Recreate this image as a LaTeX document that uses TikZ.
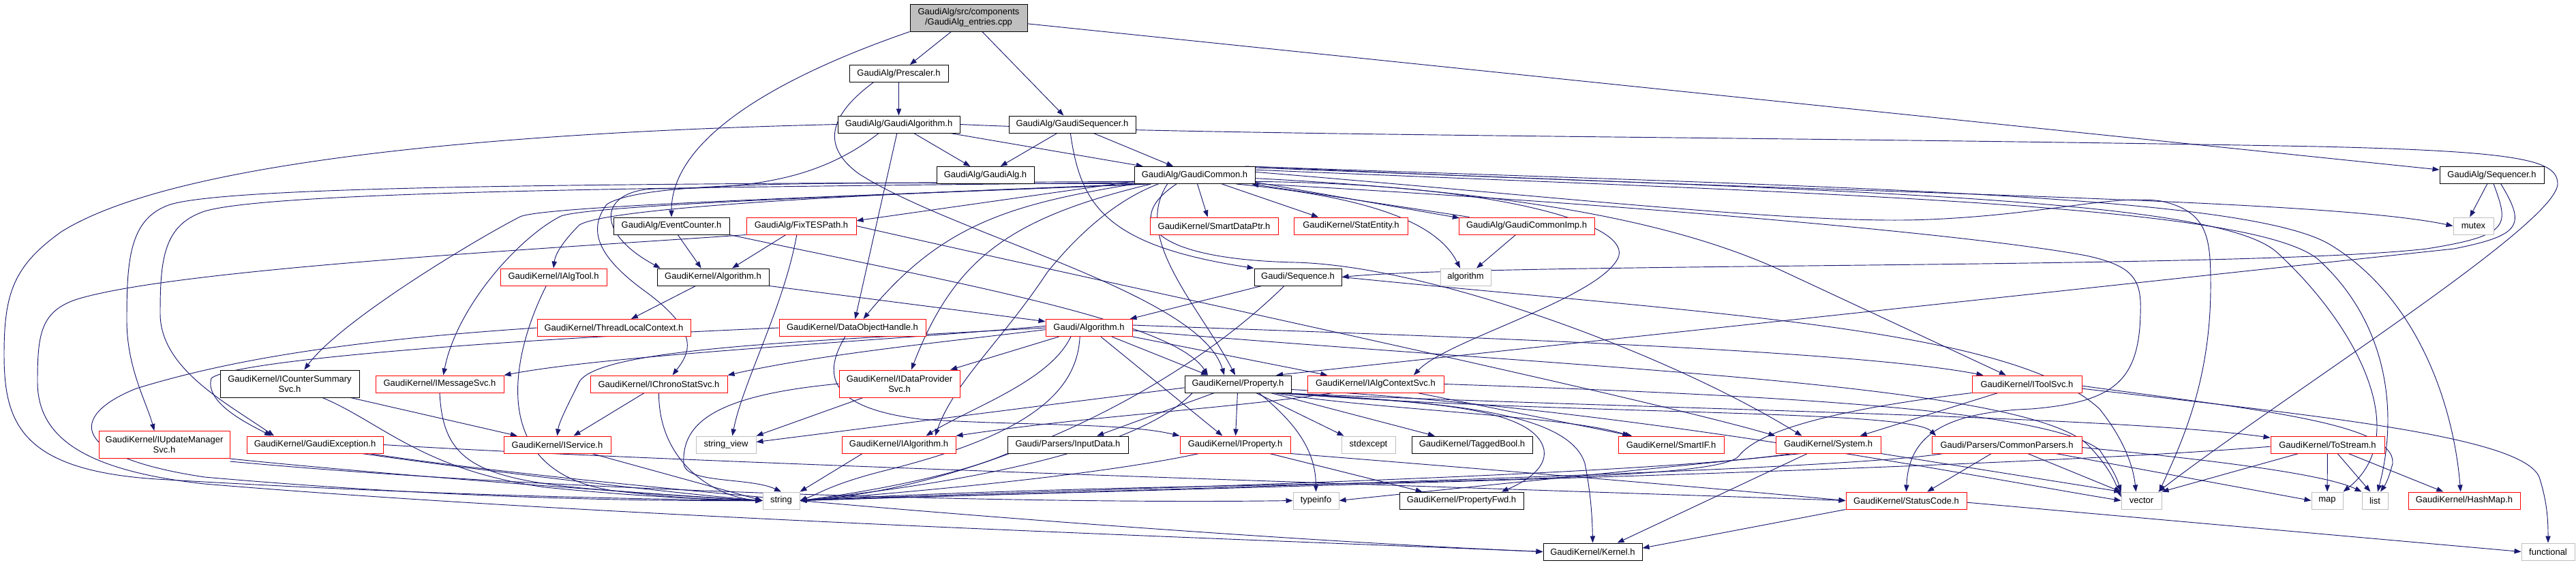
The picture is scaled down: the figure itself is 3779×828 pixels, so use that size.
\documentclass[tikz,border=0pt]{standalone}
\usepackage{fontspec}
\setmainfont{Liberation Sans}
\usetikzlibrary{arrows.meta}
\definecolor{navyc}{HTML}{191970}
\definecolor{redc}{HTML}{FF0000}
\definecolor{grayc}{HTML}{BFBFBF}
\pgfdeclarelayer{bg}
\pgfsetlayers{bg,main}
\begin{document}
\begin{tikzpicture}[x=0.75pt,y=-0.75pt,
 bx/.style={draw=black,fill=white,rectangle,inner sep=0pt,minimum width={#1*0.75pt},minimum height=18.75pt,line width=0.75pt,font=\fontsize{9.75}{11.25}\selectfont,align=center},
 rb/.style={bx=#1,draw=redc},
 gb/.style={bx=#1,draw=grayc},
 tall/.style={minimum height=30pt},
 e/.style={draw=navyc,line width=0.7pt,-{Triangle[length=7.5pt,width=5.5pt]}},
]
\useasboundingbox (0,0) rectangle (3779,828);
% nodes
\node[bx=172,tall,fill=grayc] (root) at (1421,26) {GaudiAlg/src/components\\/GaudiAlg\_entries.cpp};
\node[bx=145] (prescaler) at (1318.5,108) {GaudiAlg/Prescaler.h};
\node[bx=179] (galgo) at (1318.5,182.5) {GaudiAlg/GaudiAlgorithm.h};
\node[bx=186] (gseq) at (1573,182.5) {GaudiAlg/GaudiSequencer.h};
\node[bx=143] (galg) at (1445.5,257) {GaudiAlg/GaudiAlg.h};
\node[bx=177] (gcommon) at (1752.5,257) {GaudiAlg/GaudiCommon.h};
\node[bx=153] (sequencer) at (3655.5,257) {GaudiAlg/Sequencer.h};
\node[bx=170] (evcount) at (985,331.5) {GaudiAlg/EventCounter.h};
\node[rb=161] (fixtes) at (1175.5,331.5) {GaudiAlg/FixTESPath.h};
\node[rb=188] (sdp) at (1781,331.5) {GaudiKernel/SmartDataPtr.h};
\node[rb=167] (statent) at (1982,331.5) {GaudiKernel/StatEntity.h};
\node[rb=199] (gcimp) at (2239.5,331.5) {GaudiAlg/GaudiCommonImp.h};
\node[gb=59] (mutex) at (3628.5,331.5) {mutex};
\node[rb=156] (ialgtool) at (812,406.5) {GaudiKernel/IAlgTool.h};
\node[bx=164] (kalgo) at (1046,406.5) {GaudiKernel/Algorithm.h};
\node[bx=128] (sequence) at (1904,406.5) {Gaudi/Sequence.h};
\node[gb=74] (algorithm) at (2150,406.5) {algorithm};
\node[rb=225] (tlc) at (900.5,481) {GaudiKernel/ThreadLocalContext.h};
\node[rb=215] (doh) at (1250.5,481) {GaudiKernel/DataObjectHandle.h};
\node[rb=127] (galgorithm) at (1597.5,481) {Gaudi/Algorithm.h};
\node[bx=204,tall] (icounter) at (425,563) {GaudiKernel/ICounterSummary\\Svc.h};
\node[rb=188] (imsg) at (645,563.5) {GaudiKernel/IMessageSvc.h};
\node[rb=201] (ichrono) at (966.5,563.5) {GaudiKernel/IChronoStatSvc.h};
\node[rb=177,tall] (idataprov) at (1319.5,563) {GaudiKernel/IDataProvider\\Svc.h};
\node[bx=156] (property) at (1816,563.5) {GaudiKernel/Property.h};
\node[rb=200] (ialgctx) at (2018,563.5) {GaudiKernel/IAlgContextSvc.h};
\node[rb=161] (itoolsvc) at (2973.5,563.5) {GaudiKernel/IToolSvc.h};
\node[rb=192,tall] (iupdate) at (241,652.5) {GaudiKernel/IUpdateManager\\Svc.h};
\node[rb=200] (gexc) at (462,652.5) {GaudiKernel/GaudiException.h};
\node[rb=157] (iservice) at (817.5,652.5) {GaudiKernel/IService.h};
\node[gb=88] (strview) at (1065,652.5) {string\_view};
\node[rb=167] (ialgorithm) at (1318.5,652.5) {GaudiKernel/IAlgorithm.h};
\node[bx=177] (inputdata) at (1566.5,652.5) {Gaudi/Parsers/InputData.h};
\node[rb=162] (iproperty) at (1812,652.5) {GaudiKernel/IProperty.h};
\node[gb=79] (stdexcept) at (2007.5,652.5) {stdexcept};
\node[bx=177] (taggedbool) at (2159.5,652.5) {GaudiKernel/TaggedBool.h};
\node[rb=155] (smartif) at (2451.5,652.5) {GaudiKernel/SmartIF.h};
\node[rb=154] (system) at (2682,652.5) {GaudiKernel/System.h};
\node[rb=220] (cparsers) at (2944,652.5) {Gaudi/Parsers/CommonParsers.h};
\node[rb=167] (tostream) at (3414.5,652.5) {GaudiKernel/ToStream.h};
\node[gb=54] (string) at (1146,734.5) {string};
\node[gb=67] (typeinfo) at (1930.5,734.5) {typeinfo};
\node[bx=182] (propfwd) at (2144,734.5) {GaudiKernel/PropertyFwd.h};
\node[rb=177] (statuscode) at (2796.5,734.5) {GaudiKernel/StatusCode.h};
\node[gb=59] (vector) at (3141.5,734.5) {vector};
\node[gb=46] (map) at (3414,734.5) {map};
\node[gb=38] (list) at (3484,734.5) {list};
\node[rb=164] (hashmap) at (3615,734.5) {GaudiKernel/HashMap.h};
\node[bx=145] (kernel) at (2336.5,809.5) {GaudiKernel/Kernel.h};
\node[gb=78] (functional) at (3738,809.5) {functional};

\begin{pgfonlayer}{bg}
\fill[white] (0,0) rectangle (3779,828);
% root
\draw[e] (root) -- (prescaler);
\draw[e] (root) -- (gseq);
\draw[e] (root) -- (sequencer);
\draw[e] (root.south west) .. controls (1150,110) and (985,200) .. (evcount);
% prescaler
\draw[e] (prescaler) -- (galgo);
\draw[e] ([xshift=-28pt]prescaler.south) .. controls (1215,170) and (1205,215) .. (1260,255) .. controls (1400,345) and (1760,430) .. ([xshift=-15pt]property.north);
% GaudiAlgorithm
\draw[e] (galgo) -- (galg);
\draw[e] (galgo) -- (gcommon);
\draw[e] ([xshift=-2pt]galgo.south) -- ([xshift=3pt]doh.north);
\draw[e] ([xshift=-22pt]galgo.south) .. controls (1200,265) and (1100,277) .. (960,277) .. controls (880,280) and (870,340) .. ([xshift=4pt]kalgo.north west);
\draw[e] (galgo.west) .. controls (700,195) and (250,240) .. (90,340) .. controls (20,390) and (6,430) .. (6,520) .. controls (6,620) and (30,690) .. (230,703) .. controls (600,725) and (900,732) .. (string.west);
\draw[e] (galgo.east) .. controls (1800,200) and (2600,200) .. (3400,215) .. controls (3700,222) and (3752,235) .. (3752,270) .. controls (3750,330) and (3350,580) .. ([xshift=-4pt]vector.north east);
% GaudiSequencer
\draw[e] (gseq) -- (galg);
\draw[e] (gseq) -- (gcommon);
\draw[e] ([xshift=-2pt]gseq.south) .. controls (1585,300) and (1620,360) .. (sequence.north west);
% GaudiCommon
\draw[e] ([yshift=3pt]gcommon.south west) -- ([yshift=-4pt]fixtes.north east);
\draw[e] (gcommon) -- ([xshift=-7pt]sdp.north);
\draw[e] ([xshift=30pt]gcommon.south) -- ([xshift=-36pt]statent.north);
\draw[e] ([yshift=2pt]gcommon.south east) -- ([xshift=1pt,yshift=-1pt]gcimp.north west);
\draw[e] ([xshift=12pt]gcimp.north west) -- ([xshift=-4pt]gcommon.south east);
\draw[e] (gcommon.-12) .. controls (2020,290) and (2110,330) .. ([xshift=-6pt]algorithm.north);
\draw[e] ([xshift=-12pt]gcimp.south) -- ([xshift=12pt]algorithm.north);
\draw[e] (gcommon.8) .. controls (2700,285) and (3400,290) .. (mutex.west);
\draw[e] (gcommon.-8) .. controls (2400,300) and (2900,345) .. (3060,375) .. controls (3130,390) and (3142,410) .. (3140,460) .. controls (3138,560) and (3100,590) .. (2980,600) .. controls (2850,605) and (2800,640) .. (statuscode.north);
\draw[e] (gcommon.3) .. controls (2300,290) and (2650,330) .. (2830,322) .. controls (3000,315) and (3100,285) .. (3170,295) .. controls (3240,310) and (3243,350) .. (3243,420) .. controls (3243,560) and (3200,650) .. ([xshift=-3pt]vector.north east);
\draw[e] (gcommon.5) .. controls (2700,285) and (3300,300) .. (3400,380) .. controls (3500,470) and (3520,600) .. ([xshift=3pt]list.north);
\draw[e] (gcommon.7) .. controls (2700,280) and (3250,290) .. (3340,370) .. controls (3460,480) and (3540,640) .. (map.north east);
\draw[e] (gcommon.10) .. controls (2700,275) and (3300,285) .. (3420,360) .. controls (3550,440) and (3600,600) .. ([xshift=-4pt]hashmap.north);
\draw[e] (gcommon.-3) .. controls (2200,280) and (2450,320) .. (2620,400) -- ([xshift=-23pt]itoolsvc.north);
\draw[e] (gcommon.-6) .. controls (2200,270) and (2400,330) .. (2373,380) .. controls (2340,440) and (2120,500) .. ([xshift=42pt]ialgctx.north);
\draw[e] ([xshift=-20pt]gcommon.south) .. controls (1650,320) and (1680,380) .. (1900,385) .. controls (2100,390) and (2450,520) .. ([xshift=-29pt]system.north);
\draw[e] (gcommon.190) .. controls (1400,280) and (900,300) .. (850,330) .. controls (830,350) and (815,370) .. (ialgtool.north);
\draw[e] (gcommon.189) .. controls (1400,283) and (800,300) .. (763,318) .. controls (700,350) and (500,470) .. ([xshift=16pt]icounter.north);
\draw[e] (gcommon.191) .. controls (1400,282) and (850,300) .. (821,318) .. controls (760,350) and (670,450) .. ([xshift=4pt]imsg.north);
\draw[e] (gcommon.188) .. controls (1300,270) and (950,260) .. (890,300) .. controls (860,340) and (880,380) .. (950,430) .. controls (1030,490) and (1010,520) .. ([xshift=15pt]ichrono.north);
\draw[e] (gcommon.186) .. controls (1000,270) and (350,270) .. (250,300) .. controls (190,320) and (186,380) .. (186,470) .. controls (186,540) and (215,590) .. ([xshift=-11pt]iupdate.north);
\draw[e] (gcommon.187) .. controls (1000,275) and (400,280) .. (300,310) .. controls (240,330) and (235,380) .. (235,460) .. controls (235,540) and (330,590) .. ([xshift=-45pt]gexc.north);
\draw[e] (gcommon.south west) .. controls (1480,300) and (1380,330) .. ([xshift=12pt]doh.north);
\draw[e] ([xshift=-48pt]gcommon.south) .. controls (1480,320) and (1400,380) .. ([xshift=13pt]idataprov.north);
\draw[e] ([xshift=-30pt]gcommon.south) .. controls (1660,350) and (1760,450) .. ([xshift=-3pt]property.north);
\draw[e] ([xshift=-40pt]gcommon.south) .. controls (1620,300) and (1560,370) .. (1536,400) .. controls (1470,500) and (1400,560) .. ([xshift=40pt]ialgorithm.north);
% Sequencer
\draw[e] (sequencer) -- ([xshift=-4pt]mutex.north);
\draw[e] ([xshift=2pt]sequencer.south) .. controls (3680,330) and (3685,345) .. (3560,365) .. controls (3300,395) and (2200,385) .. (sequence.east);
\draw[e] ([xshift=10pt]sequencer.south) .. controls (3705,330) and (3700,345) .. (3600,365) -- ([xshift=42pt]property.north);
% EventCounter
\draw[e] ([xshift=7pt]evcount.south) -- ([xshift=-13pt]kalgo.north);
\draw[e] (evcount.south east) .. controls (1400,415) and (1720,470) .. ([xshift=-33pt]property.north);
% FixTESPath
\draw[e] ([xshift=-17pt]fixtes.south) -- ([xshift=21pt]kalgo.north);
\draw[e] ([xshift=-5pt]fixtes.south) .. controls (1150,450) and (1090,560) .. ([xshift=7pt]strview.north);
\draw[e] (fixtes.south west) .. controls (800,365) and (250,395) .. (110,440) .. controls (60,458) and (55,490) .. (55,560) .. controls (55,640) and (120,690) .. (300,710) .. controls (900,760) and (1800,790) .. (kernel.west);
\draw[e] (fixtes.east) .. controls (1600,410) and (2400,580) .. (system.north west);
% GaudiKernel/Algorithm.h
\draw[e] (kalgo) -- (tlc);
\draw[e] (kalgo.south east) -- ([yshift=7pt]galgorithm.west);
% IAlgTool
\draw[e] ([xshift=-8pt]ialgtool.south) .. controls (760,500) and (700,690) .. (900,720) .. controls (1000,732) and (1080,735) .. (string.west);
% ThreadLocalContext
\draw[e] (tlc.west) .. controls (500,500) and (330,530) .. (200,570) .. controls (100,610) and (100,670) .. (300,700) .. controls (700,735) and (1000,735) .. (string.west);
% DataObjectHandle
\draw[e] (doh.west) .. controls (700,500) and (340,530) .. (310,555) .. controls (300,590) and (360,620) .. ([xshift=-48pt]gexc.north);
\draw[e] ([xshift=-8pt]doh.south) .. controls (1200,560) and (1230,600) .. (1350,615) .. controls (1500,625) and (1650,620) .. (iproperty.north west);
% Gaudi/Algorithm.h
\draw[e] ([yshift=2pt]galgorithm.west) .. controls (1300,500) and (900,520) .. (imsg.north east);
\draw[e] ([yshift=-2pt]galgorithm.west) .. controls (1400,500) and (1200,520) .. (ichrono.north east);
\draw[e] (galgorithm.west) .. controls (1200,500) and (880,510) .. (850,560) .. controls (830,600) and (820,620) .. (iservice.north);
\draw[e] ([xshift=-33pt]galgorithm.south) -- ([xshift=56pt]idataprov.north);
\draw[e] ([xshift=-10pt]galgorithm.south) .. controls (1580,580) and (1500,640) .. (1300,690) .. controls (1220,710) and (1200,725) .. (string.east);
\draw[e] ([xshift=-20pt]galgorithm.south) .. controls (1540,560) and (1420,600) .. ([xshift=30pt]ialgorithm.north);
\draw[e] ([xshift=13pt]galgorithm.south) -- ([xshift=-14pt]iproperty.north);
\draw[e] ([xshift=25pt]galgorithm.south) -- ([xshift=-33pt]property.north);
\draw[e] (galgorithm.south east) -- ([xshift=-53pt]ialgctx.north);
\draw[e] ([yshift=3pt]galgorithm.east) .. controls (2000,490) and (2700,510) .. ([xshift=-48pt]itoolsvc.north);
\draw[e] ([yshift=-3pt]galgorithm.east) .. controls (2300,540) and (2950,560) .. (3060,650) .. controls (3090,680) and (3100,700) .. ([yshift=4pt]vector.west);
% Gaudi/Sequence.h
\draw[e] ([xshift=-40pt]sequence.south) -- ([xshift=-3pt]galgorithm.north east);
\draw[e] ([xshift=-15pt]sequence.south) .. controls (1700,600) and (1400,720) .. (string.east);
\draw[e] (sequence.east) .. controls (2500,460) and (2950,480) .. (3080,600) .. controls (3120,650) and (3130,690) .. ([xshift=-6pt]vector.north);
% IAlgContextSvc
\draw[e] ([xshift=-47pt]ialgctx.south) .. controls (1800,600) and (1600,610) .. (ialgorithm.north east);
\draw[e] ([xshift=46pt]ialgctx.south) -- ([xshift=-43pt]smartif.north);
\draw[e] (ialgctx.east) .. controls (2600,580) and (3000,600) .. (3080,660) .. controls (3100,690) and (3105,700) .. (vector.north west);
% IToolSvc
\draw[e] (itoolsvc.south west) .. controls (2700,600) and (2580,630) .. (2550,670) .. controls (2520,700) and (2200,705) .. (1700,715) .. controls (1400,722) and (1250,730) .. (string.east);
\draw[e] ([xshift=-32pt]itoolsvc.south) -- ([xshift=35pt]system.north);
\draw[e] ([yshift=-2pt]itoolsvc.east) .. controls (3300,600) and (3515,620) .. (3510,680) .. controls (3505,700) and (3500,710) .. ([xshift=6pt]list.north);
\draw[e] ([yshift=-5pt]itoolsvc.east) .. controls (3400,610) and (3700,640) .. (3725,700) .. controls (3738,740) and (3738,770) .. (functional.north);
% Property.h
\draw[e] ([yshift=-4pt]property.west) -- ([yshift=3pt]strview.east);
\draw[e] ([xshift=-50pt]property.south) .. controls (1650,680) and (1300,720) .. (string.east);
\draw[e] ([xshift=-26pt]property.south) -- ([xshift=32pt]inputdata.north);
\draw[e] (property) -- (iproperty);
\draw[e] ([xshift=20pt]property.south) -- ([xshift=-27pt]stdexcept.north);
\draw[e] ([xshift=23pt]property.south) .. controls (1900,620) and (1930,660) .. (typeinfo.north);
\draw[e] ([xshift=36pt]property.south) -- ([xshift=-41pt]taggedbool.north);
\draw[e] ([xshift=40pt]property.south) .. controls (2000,600) and (2300,610) .. ([xshift=-46pt]smartif.north);
\draw[e] ([xshift=42pt]property.south) .. controls (2300,610) and (2800,600) .. ([xshift=5pt]cparsers.north west);
\draw[e] ([xshift=45pt]property.south) .. controls (2400,600) and (3100,610) .. ([yshift=-2pt]tostream.north west);
\draw[e] ([yshift=-6pt]property.east) .. controls (2400,600) and (2900,700) .. (vector.west);
\draw[e] ([xshift=48pt]property.south) .. controls (2100,590) and (2300,600) .. (2325,680) .. controls (2335,730) and (2336,770) .. (kernel.north);
\draw[e] ([xshift=46pt]property.south) .. controls (2050,590) and (2250,590) .. (2265,660) .. controls (2270,690) and (2230,710) .. ([xshift=44pt]propfwd.north);
% IProperty
\draw[e] ([xshift=-40pt]iproperty.south) .. controls (1600,700) and (1300,725) .. (string.east);
\draw[e] ([xshift=38pt]iproperty.south) -- ([xshift=-43pt]propfwd.north);
\draw[e] (iproperty.south east) .. controls (2200,690) and (2500,715) .. (statuscode.west);
% others to string
\draw[e] (inputdata.south west) .. controls (1400,700) and (1250,725) .. (string.east);
\draw[e] ([xshift=-40pt]ialgorithm.south) -- (string.north east);
\draw[e] (idataprov.west) .. controls (1050,580) and (1000,620) .. (1003,680) .. controls (1005,710) and (1100,700) .. (string.north);
\draw[e] ([xshift=-40pt]idataprov.south) -- (strview.north east);
\draw[e] ([xshift=-16pt]ichrono.south) -- ([xshift=18pt]iservice.north);
\draw[e] (ichrono.south) .. controls (966,680) and (1050,730) .. (string.west);
\draw[e] ([xshift=67pt]icounter.south) -- ([xshift=-44pt]iservice.north);
\draw[e] ([xshift=36pt]icounter.south) .. controls (560,620) and (620,690) .. (800,715) .. controls (950,730) and (1050,733) .. (string.west);
\draw[e] (imsg.south) .. controls (650,680) and (700,705) .. (900,720) .. controls (1000,728) and (1080,733) .. (string.west);
\draw[e] ([xshift=38pt]iservice.south) -- (string.west);
\draw[e] ([xshift=52pt]gexc.south) .. controls (700,690) and (1000,725) .. (string.west);
\draw[e] ([xshift=60pt]gexc.south) .. controls (900,720) and (1800,790) .. (kernel.west);
\draw[e] (gexc.east) .. controls (1000,680) and (2300,720) .. (statuscode.west);
\draw[e] (iupdate.south east) .. controls (600,700) and (1000,728) .. (string.west);
\draw[e] ([yshift=-3pt]iupdate.south east) .. controls (800,720) and (1500,740) .. (typeinfo.west);
% System
\draw[e] ([xshift=-40pt]system.south) .. controls (2400,700) and (1500,720) .. (string.east);
\draw[e] ([xshift=-30pt]system.south) .. controls (2400,690) and (2100,720) .. (typeinfo.east);
\draw[e] ([xshift=-23pt]system.south) -- ([xshift=27pt]kernel.north);
\draw[e] (system.south east) -- (vector.north west);
% CommonParsers
\draw[e] ([xshift=-70pt]cparsers.south) .. controls (2700,690) and (1800,715) .. (string.east);
\draw[e] ([xshift=-17pt]cparsers.south) -- ([xshift=23pt]statuscode.north);
\draw[e] ([xshift=23pt]cparsers.south) -- (vector.north west);
\draw[e] ([xshift=54pt]cparsers.south) -- (map.west);
\draw[e] ([yshift=-3pt]cparsers.east) .. controls (3300,680) and (3420,700) .. (list.north west);
% ToStream
\draw[e] ([yshift=-2pt]tostream.west) .. controls (2900,690) and (1800,715) .. (string.east);
\draw[e] (tostream) -- (map);
\draw[e] ([xshift=11pt]tostream.south) -- ([xshift=-5pt]list.north);
\draw[e] ([xshift=23pt]tostream.south) -- ([xshift=-23pt]hashmap.north);
\draw[e] ([xshift=-32pt]tostream.south) -- (vector.north east);
% StatusCode
\draw[e] (statuscode.south west) -- ([yshift=4pt]kernel.east);
\draw[e] ([yshift=-2pt]statuscode.east) -- (functional.west);
\end{pgfonlayer}
\end{tikzpicture}
\end{document}
